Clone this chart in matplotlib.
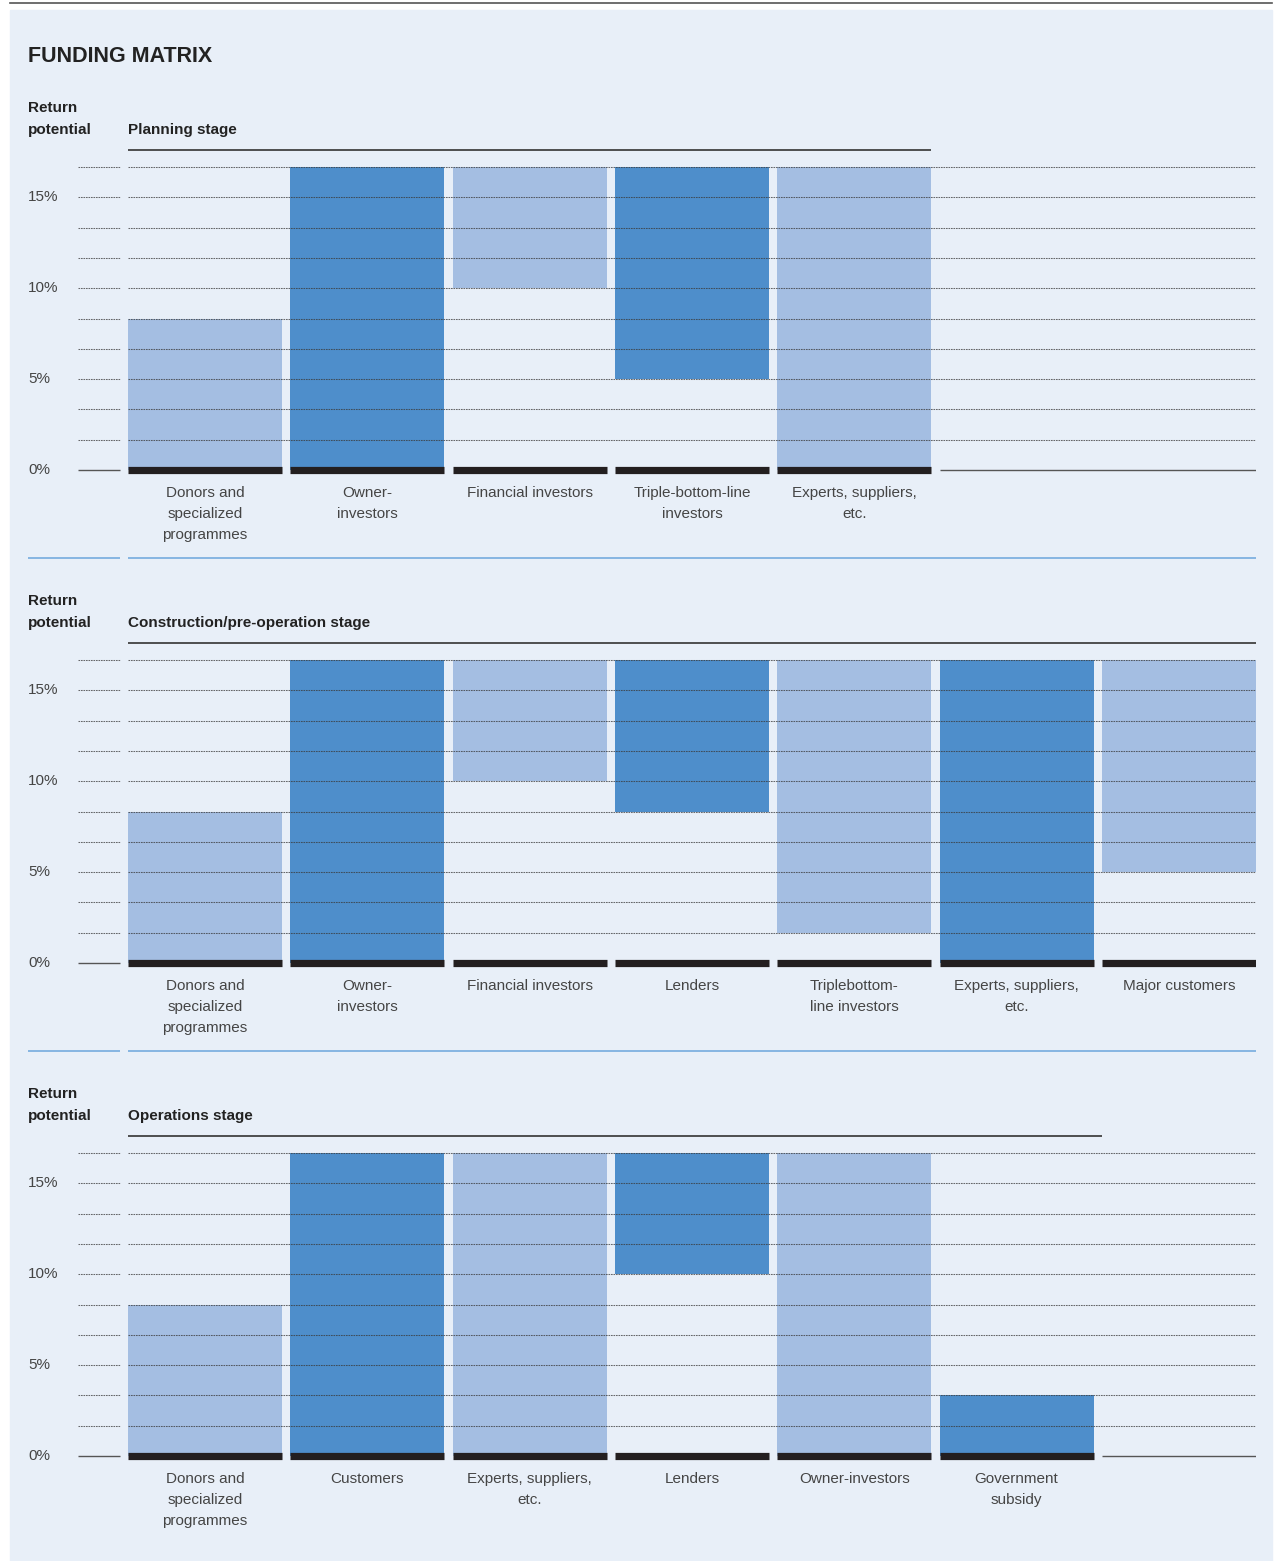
import matplotlib
matplotlib.use("Agg")
import matplotlib.pyplot as plt
from matplotlib.lines import Line2D
from matplotlib.patches import Rectangle

plt.rcParams['font.family'] = ['Liberation Sans', 'DejaVu Sans']

# funding sources per stage: (label, low, high, shade)
planning_labels = ["Donors and\nspecialized\nprogrammes", "Owner-\ninvestors",
                   "Financial investors", "Triple-bottom-line\ninvestors",
                   "Experts, suppliers,\netc."]
planning_low = [0, 0, 10, 5, 0]
planning_high = [8.33, 16.67, 16.67, 16.67, 16.67]
planning_dark = [False, True, False, True, False]

construction_labels = ["Donors and\nspecialized\nprogrammes", "Owner-\ninvestors",
                       "Financial investors", "Lenders", "Triplebottom-\nline investors",
                       "Experts, suppliers,\netc.", "Major customers"]
construction_low = [0, 0, 10, 8.33, 1.67, 0, 5]
construction_high = [8.33, 16.67, 16.67, 16.67, 16.67, 16.67, 16.67]
construction_dark = [False, True, False, True, False, True, False]

operations_labels = ["Donors and\nspecialized\nprogrammes", "Customers",
                     "Experts, suppliers,\netc.", "Lenders", "Owner-investors",
                     "Government\nsubsidy"]
operations_low = [0, 0, 0, 10, 0, 0]
operations_high = [8.33, 16.67, 16.67, 16.67, 16.67, 3.33]
operations_dark = [False, True, False, True, False, True]

stage_titles = ["Planning stage", "Construction/pre-operation stage", "Operations stage"]
y_ticks = [0, 5, 10, 15]
grid_levels = [k * 5 / 3 for k in range(1, 11)]

DARK = '#4e8ecb'
LIGHT = '#a4bee2'
BG = '#e8eff8'
TXT = '#454545'

W, H = 1280, 1561
SLOT = 162.3          # px per category slot
PPP = 303 / 16.667    # px per percent
BAR_W = 154 / SLOT


def px_to_x(p):
    return (p - 128) / SLOT - 0.475


def px_to_y(p):
    # p measured from the top of the panel, zero line sits at 470
    return (470 - p) / PPP


fig = plt.figure(figsize=(W / 100, H / 100), dpi=100)
fig.patch.set_facecolor('white')
fig.patches.append(Rectangle((10 / W, 0), 1262 / W, (H - 10) / H,
                             transform=fig.transFigure, color=BG, zorder=-5))
fig.add_artist(Line2D([10 / W, 1 - 8 / W], [1 - 3 / H] * 2, color='#555555', lw=1.2))
fig.text(28 / W, 1 - 62 / H, "FUNDING MATRIX", fontsize=15.5, fontweight='bold',
         color='#222222', va='baseline', ha='left')

stages = [
    (planning_labels, planning_low, planning_high, planning_dark, 4.475),
    (construction_labels, construction_low, construction_high, construction_dark, 6.475),
    (operations_labels, operations_low, operations_high, operations_dark, px_to_x(1102)),
]

for k, (labels, low, high, dark, head_end) in enumerate(stages):
    off = [0, 493, 986][k]
    top_px, bot_px = 90, 562
    ax = fig.add_axes([28 / W, 1 - (bot_px + off) / H, 1228 / W, (bot_px - top_px) / H])
    ax.set_xlim(px_to_x(28), px_to_x(1256))
    ax.set_ylim(px_to_y(bot_px), px_to_y(top_px))
    ax.axis('off')
    ax.set_zorder(2)

    # dotted grid, left stub and main run
    for g in grid_levels:
        for a, b in [(78, 120), (128, 1256)]:
            ax.hlines(g, px_to_x(a), px_to_x(b), colors='#3a3a3a', lw=0.75,
                      linestyles=(0, (1.6, 0.8)), alpha=0.75, zorder=3)
    ax.hlines(0, px_to_x(78), px_to_x(120), colors='#555555', lw=1.0, zorder=3)

    for t in y_ticks:
        ax.text(px_to_x(28), t, f"{t}%", fontsize=11, color=TXT, ha='left', va='center')

    n = len(labels)
    xs = list(range(n))
    ax.bar(xs, [h - l for l, h in zip(low, high)], bottom=low, width=BAR_W,
           color=[DARK if d else LIGHT for d in dark], linewidth=0, zorder=2)
    ax.hlines([0] * n, [x - BAR_W / 2 for x in xs], [x + BAR_W / 2 for x in xs],
              colors='#231f20', lw=5.2, zorder=4)
    if n < 7:
        ax.hlines(0, n - 0.475, px_to_x(1256), colors='#555555', lw=1.0, zorder=3)

    for x, lab in zip(xs, labels):
        ax.text(x, px_to_y(486), lab, fontsize=11, color=TXT, ha='center', va='top',
                linespacing=1.64)

    ax.text(px_to_x(28), px_to_y(112), "Return", fontsize=11, fontweight='bold',
            color='#222222', ha='left', va='baseline')
    ax.text(px_to_x(28), px_to_y(134), "potential", fontsize=11, fontweight='bold',
            color='#222222', ha='left', va='baseline')
    ax.text(px_to_x(128), px_to_y(134), stage_titles[k], fontsize=11, fontweight='bold',
            color='#222222', ha='left', va='baseline')
    ax.hlines(px_to_y(150), px_to_x(128), head_end, colors='#333333', lw=1.2)

    if k < 2:
        ax.hlines(px_to_y(558), px_to_x(28), px_to_x(120), colors='#7eb0e0', lw=1.3)
        ax.hlines(px_to_y(558), px_to_x(128), px_to_x(1256), colors='#7eb0e0', lw=1.3)

fig.savefig("out.png", dpi=100, facecolor=fig.get_facecolor())
